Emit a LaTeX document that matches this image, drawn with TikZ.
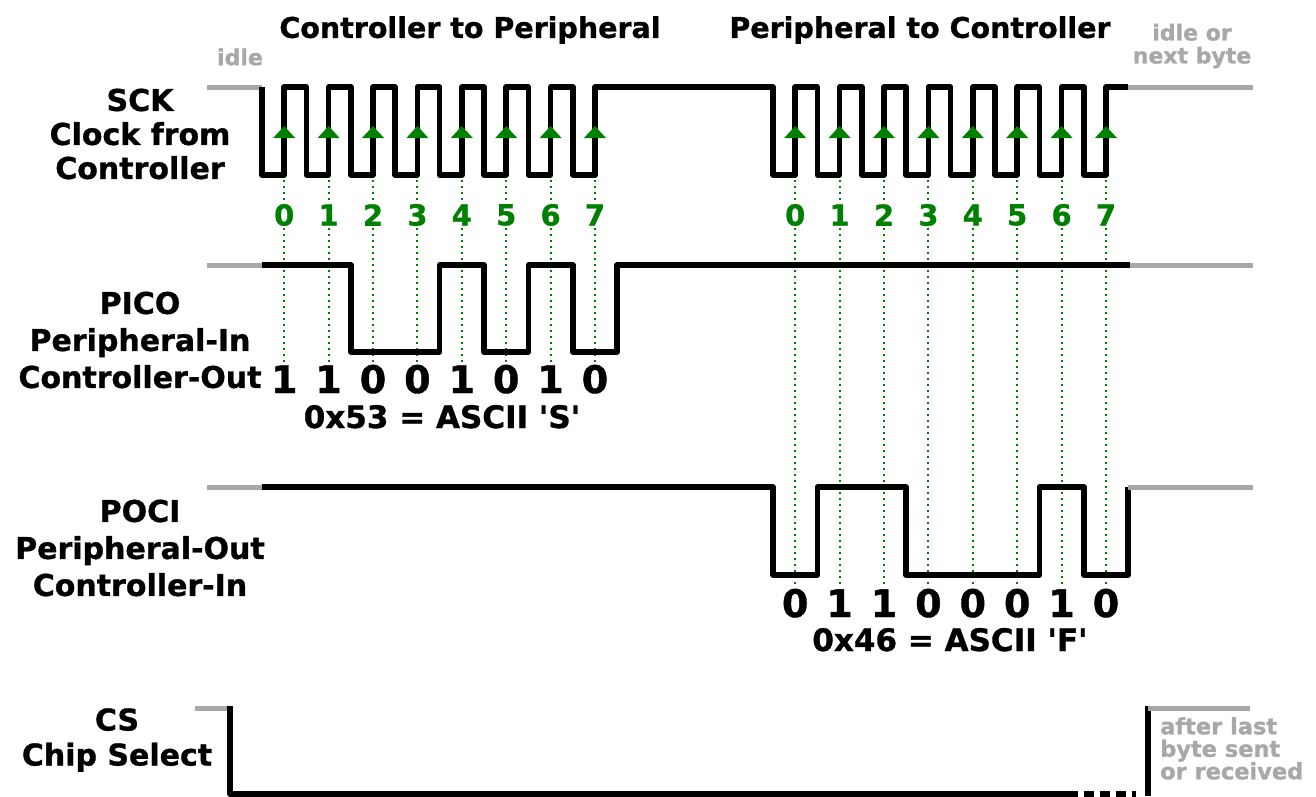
\documentclass[tikz,border=0pt]{standalone}
\usepackage{fontspec}
\setmainfont{DejaVu Sans}[BoldFeatures={FakeBold=1}]
\usetikzlibrary{positioning}
\definecolor{sckgreen}{RGB}{0,128,0}
\definecolor{idlegray}{RGB}{168,168,168}

\begin{document}
\begin{tikzpicture}[x=1pt, y=-1pt,
    wave/.style={line width=5.5pt, line join=round},
    idleline/.style={line width=5pt, idlegray},
    sample/.style={sckgreen, line width=2pt, dash pattern=on 2pt off 4pt},
    heading/.style={font=\fontsize{28.5}{30}\selectfont\bfseries, inner sep=0pt},
    signame/.style={font=\fontsize{30}{37}\selectfont\bfseries, align=center, inner sep=0pt},
    bitidx/.style={font=\fontsize{29}{30}\selectfont\bfseries, text=sckgreen, fill=white, inner sep=1pt},
    bitval/.style={font=\fontsize{38}{38}\selectfont\bfseries, inner sep=0pt, anchor=base},
    hexval/.style={font=\fontsize{31}{31}\selectfont\bfseries, inner sep=0pt, anchor=base},
    note/.style={font=\fontsize{22}{23}\selectfont\bfseries, text=idlegray, inner sep=0pt}
  ]
  \useasboundingbox (0,0) rectangle (1316,796);

  % headings and idle notes
  \node[heading] (c2p) at (470,30) {Controller to Peripheral};
  \node[heading] (p2c) at (920,30) {Peripheral to Controller};
  \node[note] (idleA) at (240,57) {idle};
  \node[note, align=center] (idleB) at (1192,46) {idle or\\next byte};

  % signal names
  \node[signame, font=\fontsize{30}{34}\selectfont\bfseries] (sck) at (140,134) {SCK\\Clock from\\Controller};
  \node[signame] (pico) at (140,340) {PICO\\Peripheral-In\\Controller-Out};
  \node[signame] (poci) at (140,548) {POCI\\Peripheral-Out\\Controller-In};
  \node[signame, font=\fontsize{30}{35}\selectfont\bfseries] (cs) at (117,740) {CS\\Chip Select};

  % sample lines and bit indices
  \foreach \k in {0,...,7} {
    \draw[sample] ({284.2+44.4*\k},180) -- ({284.2+44.4*\k},362);
    \draw[sample] ({795.2+44.4*\k},180) -- ({795.2+44.4*\k},587);
    \node[bitidx] (ia\k) at ({284.2+44.4*\k},215) {\k};
    \node[bitidx] (ib\k) at ({795.2+44.4*\k},215) {\k};
  }

  % SCK
  \draw[idleline] (207,87) -- (262,87);
  \draw[wave] (262,87)
    \foreach \k in {0,...,7} { -- ++(0,88) -- ++(22.2,0) -- ++(0,-88) -- ++(22.2,0) }
    -- (773,87)
    \foreach \k in {0,...,7} { -- ++(0,88) -- ++(22.2,0) -- ++(0,-88) -- ++(22.2,0) };
  \draw[idleline] (1128.2,87) -- (1253,87);
  \foreach \t in {262,773}
    \foreach \k in {0,...,7}
      \fill[sckgreen] ({\t+11.2+44.4*\k},138) -- ++(11,-12) -- ++(11,12) -- cycle;

  % PICO
  \draw[idleline] (207,265) -- (262,265);
  \draw[wave] (262,265) -- (350.8,265) -- (350.8,352) -- (439.6,352) -- (439.6,265)
    -- (484,265) -- (484,352) -- (528.4,352) -- (528.4,265) -- (572.8,265)
    -- (572.8,352) -- (617.2,352) -- (617.2,265) -- (1130,265);
  \draw[idleline] (1130,265) -- (1253,265);
  \foreach \v [count=\k from 0] in {1,1,0,0,1,0,1,0}
    \node[bitval] (pa\k) at ({284.2+44.4*\k},393) {\v};
  \node[hexval] (hexa) at (442,428) {0x53 = ASCII \textquotesingle S\textquotesingle};

  % POCI
  \draw[idleline] (207,487) -- (262,487);
  \draw[wave] (262,487) -- (773,487) -- (773,575) -- (817.4,575) -- (817.4,487)
    -- (906.2,487) -- (906.2,575) -- (1039.4,575) -- (1039.4,487) -- (1083.8,487)
    -- (1083.8,575) -- (1128.2,575) -- (1128.2,487);
  \draw[idleline] (1128.2,487) -- (1253,487);
  \foreach \v [count=\k from 0] in {0,1,1,0,0,0,1,0}
    \node[bitval] (pb\k) at ({795.2+44.4*\k},617) {\v};
  \node[hexval] (hexb) at (950,651) {0x46 = ASCII \textquotesingle F\textquotesingle};

  % CS
  \draw[idleline] (195,708) -- (230,708);
  \draw[wave] (230,706) -- (230,794) -- (1078,794);
  \draw[wave, dash pattern=on 10pt off 6pt] (1084,794) -- (1136,794);
  \draw[wave] (1148,796) -- (1148,706);
  \draw[idleline] (1148,708) -- (1250,708);
  \node[note, align=left, anchor=north west, font=\fontsize{22.5}{22.5}\selectfont\bfseries] (after) at (1160,717) {after last\\byte sent\\or received};
\end{tikzpicture}
\end{document}
